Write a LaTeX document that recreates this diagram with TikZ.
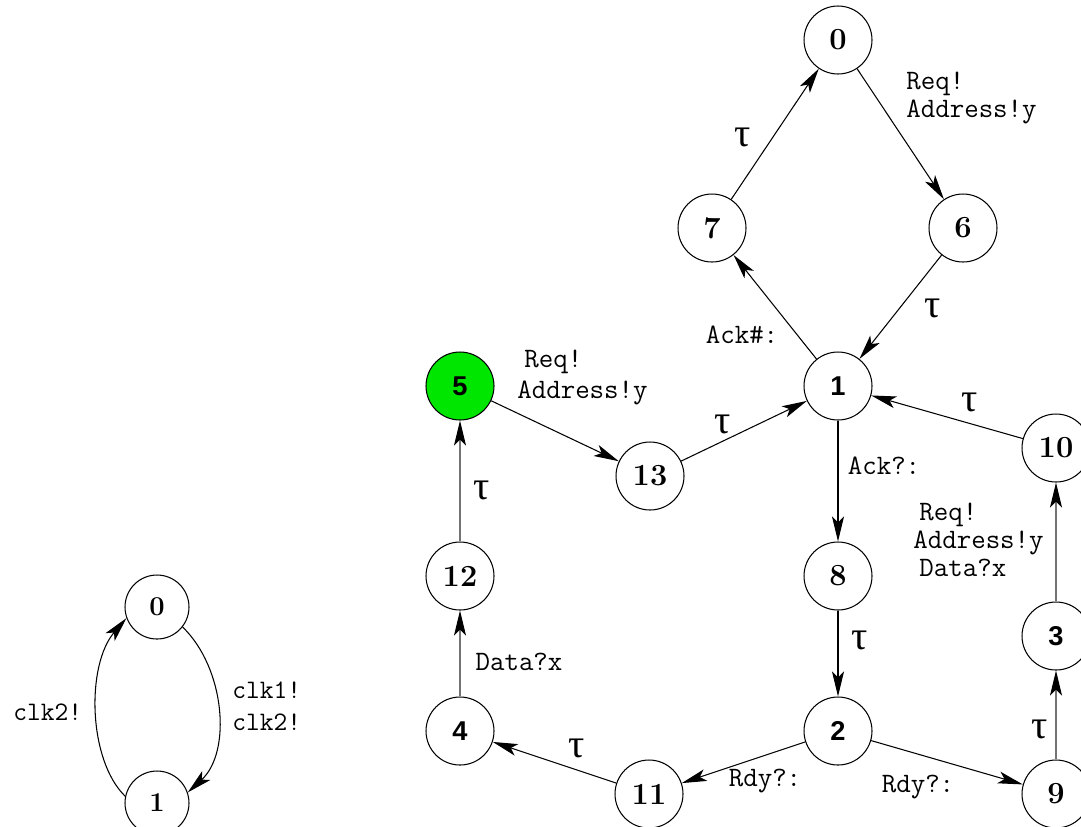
\documentclass[tikz,border=0pt]{standalone}
\usepackage{fontspec}
\newfontfamily\sansf{Liberation Sans}
\newfontfamily\greekf{Liberation Serif}
\usetikzlibrary{arrows.meta}
\definecolor{initgreen}{RGB}{0,230,0}

\begin{document}
\begin{tikzpicture}[x=0.02cm, y=-0.02cm,
  state/.style={circle, draw, line width=0.6pt, minimum size=1.36cm, inner sep=0pt,
                font=\fontsize{17.5}{17.5}\selectfont\bfseries},
  sstate/.style={state, font=\fontsize{15.5}{15.5}\sansf\bfseries},
  smallstate/.style={state, minimum size=1.28cm, font=\fontsize{15.5}{15.5}\selectfont\bfseries},
  trans/.style={line width=0.6pt, -{Stealth[length=0.5cm, width=0.24cm, inset=0.12cm, color=black]}},
  faint/.style={trans, draw=black!55},
  lbl/.style={font=\fontsize{16}{16}\ttfamily, inner sep=0pt},
  lline/.style={lbl, anchor=base west},
  clk/.style={font=\fontsize{15.2}{15.2}\ttfamily, inner sep=0pt, anchor=base west},
  tau/.style={font=\fontsize{23}{23}\greekf, inner sep=0pt},
]
\useasboundingbox (0,0) rectangle (1081,826);
\clip (0,0) rectangle (1081,826);

% clock process
\node[smallstate] (l0) at (157,607) {0};
\node[smallstate] (l1) at (157,803) {1};
\draw[trans] (l0.-38) .. controls (225,668) and (232,752) .. (l1.19);
\draw[trans] (l1.168) .. controls (88,760) and (86,665) .. (l0.200);
\node[clk] (lclkl)  at (13,720)  {clk2!};
\node[clk] (lclkr1) at (232,698) {clk1!};
\node[clk] (lclkr2) at (232,730) {clk2!};

% bus process states
\node[state]  (r0)  at (838,40)  {0};
\node[state]  (r7)  at (712,228) {7};
\node[state]  (r6)  at (963,228) {6};
\node[sstate] (r1)  at (838,386) {1};
\node[sstate, fill=initgreen] (r5) at (460,386) {5};
\node[state]  (r13) at (650,476) {13};
\node[state]  (r10) at (1056,448) {10};
\node[state]  (r8)  at (838,576) {8};
\node[state]  (r12) at (460,576) {12};
\node[sstate] (r3)  at (1056,636) {3};
\node[sstate] (r4)  at (460,731) {4};
\node[sstate] (r2)  at (838,731) {2};
\node[state]  (r11) at (649,794) {11};
\node[state]  (r9)  at (1056,794) {9};

% transitions
\draw[trans] (r0) -- (r6);
\draw[trans] (r7) -- (r0);
\draw[trans] (r6) -- (r1);
\draw[trans] (r1) -- (r7);
\draw[trans] (r1) -- (r8);
\draw[trans] (r10) -- (r1);
\draw[trans] (r13) -- (r1);
\draw[trans] (r5) -- (r13);
\draw[faint] (r12) -- (r5);
\draw[faint] (r4) -- (r12);
\draw[trans] (r11) -- (r4);
\draw[trans] (r2) -- (r11);
\draw[trans] (r2) -- (r9);
\draw[trans] (r8) -- (r2);
\draw[faint] (r9) -- (r3);
\draw[faint] (r3) -- (r10);

% transition labels
\node[lline] (lreqa1) at (906,89)  {Req!};
\node[lline] (lreqa2) at (906,117) {Address!y};
\node[tau] (t70)  at (743,137) {τ};
\node[tau] (t61)  at (933,308) {τ};
\node[lbl] (lack1) at (742,335) {Ack\#:};
\node[lbl] (lack2) at (884,466) {Ack?:};
\node[tau] (t101) at (970,402) {τ};
\node[tau] (t131) at (723,424) {τ};
\node[lline] (lreqb1) at (524,367) {Req!};
\node[lline] (lreqb2) at (517,398) {Address!y};
\node[tau] (t125) at (482,490) {τ};
\node[lbl] (ldata) at (519,662) {Data?x};
\node[tau] (t82)  at (860,640) {τ};
\node[tau] (t114) at (577,748) {τ};
\node[lbl] (lrdy1) at (765,781) {Rdy?:};
\node[lbl] (lrdy2) at (918,787) {Rdy?:};
\node[tau] (t93)  at (1040,729) {τ};
\node[lline] (lreqc1) at (919,520) {Req!};
\node[lline] (lreqc2) at (913,548) {Address!y};
\node[lline] (lreqc3) at (919,576) {Data?x};
\end{tikzpicture}
\end{document}
